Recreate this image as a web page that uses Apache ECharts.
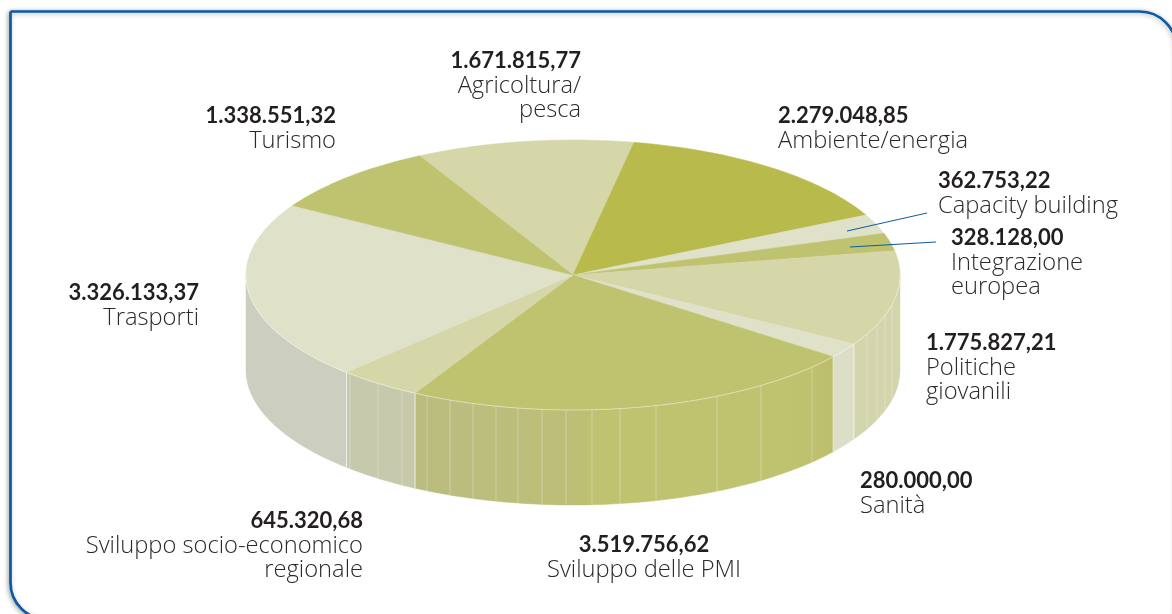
<!DOCTYPE html>
<html><head><meta charset="utf-8">
<style>html,body{margin:0;padding:0;background:#fff}#c{width:1172px;height:614px}</style>
<script src="https://cdn.jsdelivr.net/npm/echarts@6/dist/echarts.min.js"></script>
</head><body><div id="c"></div>
<script>
// Clockwise from the Turismo/Agricoltura boundary
const categories = ['Agricoltura/\npesca','Ambiente/energia','Capacity building','Integrazione\neuropea','Politiche\ngiovanili','Sanità','Sviluppo delle PMI','Sviluppo socio-economico\nregionale','Trasporti','Turismo'];
const valueLabels = ['1.671.815,77','2.279.048,85','362.753,22','328.128,00','1.775.827,21','280.000,00','3.519.756,62','645.320,68','3.326.133,37','1.338.551,32'];
const values = [1671815.77,2279048.85,362753.22,328128.00,1775827.21,280000.00,3519756.62,645320.68,3326133.37,1338551.32];
const topColors = ['#d5d7a9','#b8bb4c','#dfe1c8','#bfc36f','#d5d7a9','#dfe1c8','#bfc36f','#d5d7a9','#dfe1c8','#bfc36f'];
const sideColors = ['#d5d7a9','#b8bb4c','#dfe1c8','#bfc36f','#d3d5ac','#dcdec8','#bfc36f','#c6c9ab','#cccfbf','#bfc36f'];
const labelPos = [[581,50,'right'],[778,105,'left'],[938,170,'left'],[951,227,'left'],[926,332,'left'],[860,470,'left'],[644,534,'center'],[363,510,'right'],[199,282,'right'],[336,105,'right']];
// decorative facet seams seen on the wall, by screen x
const facetX = [350,378,402,427,450,473,496,518,542,566,592,620,656,717,761,812,867,877,885,892];

const CX=573, CY=275, RX=327, RY=135, DEPTH=95, START=-28;
const total = values.reduce((a,b)=>a+b,0);
const pt=(deg,y0)=>{const a=deg*Math.PI/180;return [CX+RX*Math.sin(a),(y0===undefined?CY:y0)-RY*Math.cos(a)];};
function arc(a0,a1,y0){const n=Math.max(2,Math.ceil((a1-a0)/1.5));const o=[];for(let i=0;i<=n;i++)o.push(pt(a0+(a1-a0)*i/n,y0));return o;}
const slices=[];let acc=START;
values.forEach((v,i)=>{const s=v/total*360;slices.push({i,a0:acc,a1:acc+s});acc+=s;});

function wallFill(i){
  if(i!==6) return sideColors[i];
  return new echarts.graphic.LinearGradient(414,0,833,0,[
    {offset:0,color:'#babd80'},{offset:0.36,color:'#bcbe78'},{offset:0.46,color:'#bfc36f'},
    {offset:0.9,color:'#bfc36f'},{offset:1,color:'#bcbe6b'}],true);
}
function renderItem(){
  const children=[];
  slices.forEach(s=>{
    const a0=Math.max(s.a0,90), a1=Math.min(s.a1,270);
    if(a1<=a0) return;
    const top=arc(a0,a1,CY), bot=arc(a0,a1,CY+DEPTH).reverse();
    const fill=wallFill(s.i);
    children.push({type:'polygon',shape:{points:top.concat(bot)},style:{fill,stroke:fill,lineWidth:0.5}});
  });
  facetX.forEach(x=>{
    const dx=(x-CX)/RX, dy=Math.sqrt(1-dx*dx)*RY;
    children.push({type:'line',shape:{x1:x,y1:CY+dy,x2:x,y2:CY+dy+DEPTH},style:{stroke:'rgba(255,255,255,0.3)',lineWidth:1}});
  });
  slices.forEach(s=>{
    if(s.a0>90&&s.a0<270){const p=pt(s.a0,CY),q=pt(s.a0,CY+DEPTH);children.push({type:'line',shape:{x1:p[0],y1:p[1],x2:q[0],y2:q[1]},style:{stroke:'rgba(255,255,255,0.7)',lineWidth:1}});}
  });
  slices.forEach(s=>{
    const pts=[[CX,CY]].concat(arc(s.a0,s.a1,CY));
    children.push({type:'polygon',shape:{points:pts},style:{fill:topColors[s.i],stroke:topColors[s.i],lineWidth:0.5}});
  });
  children.push({type:'polyline',shape:{points:arc(90,270,CY)},style:{fill:null,stroke:'rgba(255,255,255,0.45)',lineWidth:1}});
  return {type:'group',children};
}

const graphic=[
  {type:'rect',z:0,shape:{x:10.5,y:11.5,width:1166,height:608,r:[0,37,0,37]},style:{fill:'#fff',stroke:'#0a5aa5',lineWidth:2.7,shadowBlur:5,shadowColor:'rgba(0,0,0,0.3)',shadowOffsetX:-1,shadowOffsetY:1}},
  {type:'line',z:20,shape:{x1:847,y1:231,x2:927,y2:213},style:{stroke:'#0a5aa5',lineWidth:1}},
  {type:'line',z:20,shape:{x1:850,y1:247,x2:936,y2:242},style:{stroke:'#0a5aa5',lineWidth:1}}
];
categories.forEach((c,i)=>{
  const [x,y,al]=labelPos[i];
  graphic.push({type:'text',z:20,x,y,style:{text:valueLabels[i],font:'700 22px Lato, sans-serif',fill:'#231f20',textAlign:al,textVerticalAlign:'top'}});
  graphic.push({type:'text',z:20,x,y:y+24,style:{text:c,font:'300 23.7px "Open Sans", sans-serif',lineHeight:24,fill:'#2b292a',textAlign:al,textVerticalAlign:'top'}});
});

const chart=echarts.init(document.getElementById('c'),null,{renderer:'canvas'});
chart.setOption({
  animation:false,
  backgroundColor:'#fff',
  graphic,
  series:[{type:'custom',coordinateSystem:'none',z:10,data:categories.map((c,i)=>({name:c,value:values[i]})),renderItem:(p,a)=>p.dataIndex===0?renderItem():{type:'group',children:[]}}]
});
</script></body></html>
